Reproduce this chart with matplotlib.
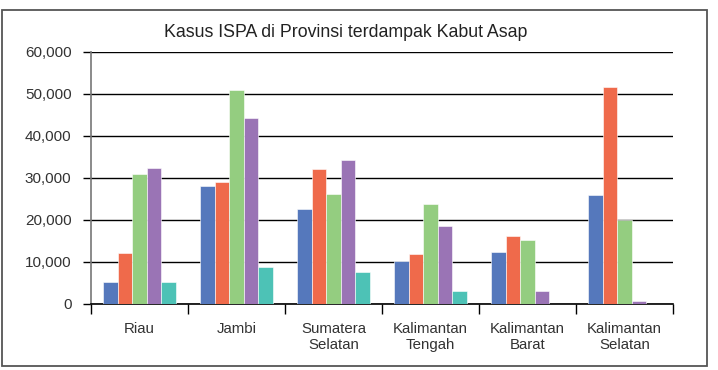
import matplotlib.pyplot as plt
import numpy as np
from matplotlib.patches import Rectangle
from matplotlib.ticker import FuncFormatter

plt.rcParams["font.family"] = ["Liberation Sans", "DejaVu Sans"]

provinces = ["Riau", "Jambi", "Sumatera\nSelatan", "Kalimantan\nTengah",
             "Kalimantan\nBarat", "Kalimantan\nSelatan"]
series_a = [5200, 28200, 22700, 10200, 12400, 25900]
series_b = [12200, 29000, 32100, 11800, 16100, 51600]
series_c = [30900, 51000, 26300, 23900, 15200, 20100]
series_d = [32400, 44400, 34200, 18600, 3200, 700]
series_e = [5200, 8800, 7700, 3200, 0, 0]
colors = ["#5578bc", "#ef6a4b", "#94cd80", "#9a74b5", "#4dc2b6"]

fig = plt.figure(figsize=(7.18, 3.70), dpi=100)
ax = fig.add_axes([0.1267, 0.1784, 0.8106, 0.6811])

series = [series_a, series_b, series_c, series_d, series_e]
x = np.arange(len(provinces))
width = 0.75 / len(series)
for i, (vals, col) in enumerate(zip(series, colors)):
    offset = (i - (len(series) - 1) / 2) * width
    ax.bar(x + offset, vals, width, color=col, edgecolor="white",
           linewidth=0.4, zorder=3)

ax.set_xlim(-0.5, len(provinces) - 0.5)
ax.set_ylim(0, 60000)
ax.set_yticks(np.arange(0, 60001, 10000))
ax.yaxis.set_major_formatter(FuncFormatter(lambda v, p: f"{int(v):,}"))
ax.grid(axis="y", color="black", linewidth=1, zorder=1)
ax.set_axisbelow(True)

ax.set_xticks(x)
ax.set_xticklabels(provinces, linespacing=1.15)
ax.set_xticks(np.arange(-0.5, len(provinces)), minor=True)
ax.tick_params(axis="x", which="major", length=0, pad=13,
               labelsize=10.8, labelcolor="#333333")
ax.tick_params(axis="x", which="minor", length=7, width=1, color="black",
               direction="out")
ax.tick_params(axis="y", length=6, width=1, color="black",
               labelsize=11, labelcolor="#333333", pad=8)

for side in ["top", "right"]:
    ax.spines[side].set_visible(False)
ax.spines["left"].set_color("#777777")
ax.spines["left"].set_linewidth(1.2)
ax.spines["bottom"].set_color("black")
ax.spines["bottom"].set_linewidth(1.2)

fig.text(0.481, 0.912, "Kasus ISPA di Provinsi terdampak Kabut Asap",
         ha="center", va="center", fontsize=12.8, color="#222222")

fig.patches.append(Rectangle((0.003, 0.011), 0.981, 0.962,
                             transform=fig.transFigure, fill=False,
                             edgecolor="#555555", linewidth=1.3))

fig.savefig("out.png", dpi=100)
